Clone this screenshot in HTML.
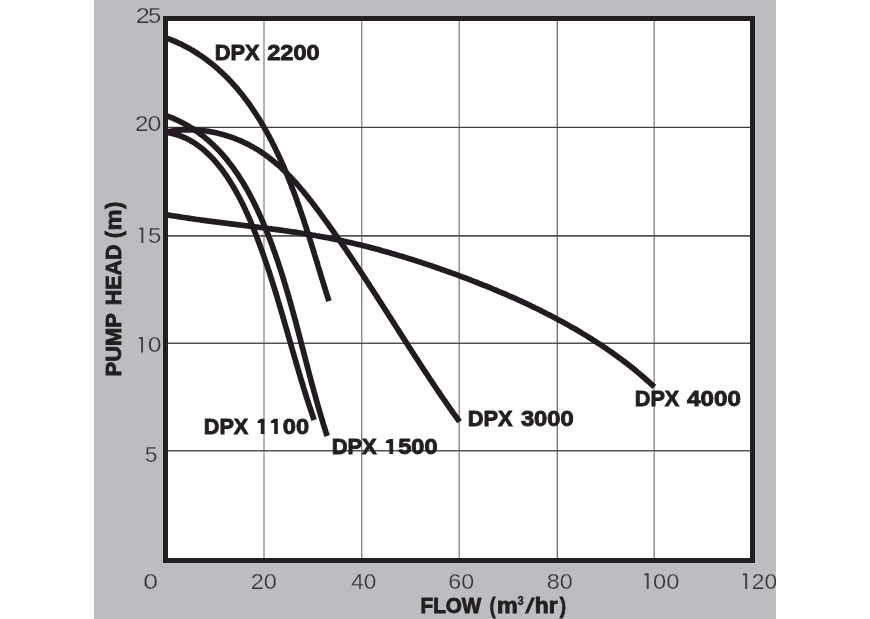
<!DOCTYPE html>
<html>
<head>
<meta charset="utf-8">
<title>Pump Curves</title>
<style>
html,body{margin:0;padding:0;background:#fff;}
body{width:870px;height:619px;overflow:hidden;font-family:"Liberation Sans",sans-serif;}
svg{display:block;will-change:transform;}
text{font-family:"Liberation Sans",sans-serif;}
.tick{fill:#37383a;font-size:22.6px;stroke:#bcbdc0;stroke-width:0.25;paint-order:fill stroke;}
.lbl{fill:#231f20;font-weight:bold;font-size:22px;stroke:#231f20;stroke-width:0.9;}
.curve{fill:none;stroke:#231f20;stroke-width:5.7;stroke-linecap:butt;stroke-linejoin:round;}
</style>
</head>
<body>
<svg width="870" height="619" viewBox="0 0 870 619">
  <defs>
    <clipPath id="grayclip"><rect x="94" y="0" width="682" height="619"/></clipPath>
    <filter id="soft" x="-2%" y="-2%" width="104%" height="104%" filterUnits="objectBoundingBox"><feGaussianBlur stdDeviation="0.4"/></filter>
    <clipPath id="plotclip"><rect x="165" y="18" width="588" height="543"/></clipPath>
  </defs>
  <rect x="0" y="0" width="870" height="619" fill="#ffffff"/>
  <rect x="94" y="0" width="682" height="619" fill="#bcbdc0"/>
  <rect x="165.5" y="18.5" width="587" height="542" fill="#ffffff"/>

  <!-- grid -->
  <g>
    <line x1="264" y1="20" x2="264" y2="559" stroke="#b4b4b4" stroke-width="2"/>
    <line x1="361.7" y1="20" x2="361.7" y2="559" stroke="#8a8a8a" stroke-width="1.4"/>
    <line x1="459.2" y1="20" x2="459.2" y2="559" stroke="#8a8a8a" stroke-width="1.4"/>
    <line x1="557.3" y1="20" x2="557.3" y2="559" stroke="#6a6a6a" stroke-width="1.3"/>
    <line x1="654.2" y1="20" x2="654.2" y2="559" stroke="#8a8a8a" stroke-width="1.4"/>
    <line x1="167" y1="127.45" x2="751" y2="127.45" stroke="#404040" stroke-width="1.3"/>
    <line x1="167" y1="235.9" x2="751" y2="235.9" stroke="#525252" stroke-width="1.6"/>
    <line x1="167" y1="343.2" x2="751" y2="343.2" stroke="#525252" stroke-width="1.4"/>
    <line x1="167" y1="450.7" x2="751" y2="450.7" stroke="#525252" stroke-width="1.4"/>
  </g>

  <!-- curves -->
  <g clip-path="url(#plotclip)"><g filter="url(#soft)">
    <path class="curve" d="M164.2,37.1 L167.9,38.6 L169.9,39.3 L171.8,40.1 L173.7,40.9 L175.6,41.7 L177.5,42.6 L179.4,43.4 L181.2,44.3 L183.1,45.2 L184.9,46.2 L186.7,47.1 L188.4,48.1 L190.2,49.1 L191.9,50.1 L193.7,51.1 L195.4,52.2 L197.1,53.2 L198.7,54.3 L200.4,55.4 L202.0,56.5 L203.7,57.7 L205.3,58.8 L206.9,60.0 L208.4,61.2 L210.0,62.4 L211.5,63.6 L213.1,64.9 L214.6,66.1 L216.1,67.4 L217.6,68.7 L219.0,70.0 L220.5,71.3 L221.9,72.6 L223.3,74.0 L224.7,75.3 L226.1,76.7 L227.5,78.1 L228.9,79.5 L230.2,80.9 L231.6,82.4 L232.9,83.8 L234.2,85.3 L235.5,86.7 L236.8,88.2 L238.1,89.7 L239.3,91.2 L240.6,92.8 L241.8,94.3 L243.0,95.8 L244.2,97.4 L245.4,99.0 L246.6,100.5 L247.8,102.1 L248.9,103.7 L250.1,105.3 L251.2,107.0 L252.3,108.6 L253.4,110.2 L254.5,111.9 L255.6,113.5 L256.7,115.2 L257.8,116.9 L258.8,118.6 L259.9,120.2 L260.9,121.9 L261.9,123.7 L262.9,125.4 L263.9,127.1 L264.9,128.8 L265.9,130.6 L266.9,132.3 L267.8,134.0 L268.8,135.8 L269.7,137.6 L270.6,139.3 L271.6,141.1 L272.5,142.9 L273.4,144.7 L274.3,146.5 L275.2,148.3 L276.0,150.1 L276.9,151.9 L277.8,153.7 L278.6,155.5 L279.5,157.3 L280.3,159.2 L281.1,161.0 L281.9,162.8 L282.8,164.7 L283.6,166.5 L284.4,168.4 L285.1,170.2 L285.9,172.1 L286.7,174.0 L287.5,175.8 L288.2,177.7 L289.0,179.6 L289.7,181.5 L290.5,183.3 L291.2,185.2 L291.9,187.1 L292.6,189.0 L293.4,190.9 L294.1,192.8 L294.8,194.7 L295.5,196.6 L296.2,198.5 L296.9,200.4 L297.5,202.3 L298.2,204.2 L298.9,206.1 L299.6,208.0 L300.2,210.0 L300.9,211.9 L301.5,213.8 L302.2,215.7 L302.8,217.6 L303.5,219.5 L304.1,221.5 L304.7,223.4 L305.4,225.3 L306.0,227.2 L306.6,229.1 L307.2,231.1 L307.8,233.0 L308.5,234.9 L309.1,236.8 L309.7,238.8 L310.3,240.7 L310.9,242.6 L311.5,244.5 L312.1,246.4 L312.7,248.4 L313.3,250.3 L313.9,252.2 L314.4,254.1 L315.0,256.0 L315.6,257.9 L316.2,259.8 L316.8,261.7 L317.4,263.6 L317.9,265.5 L318.5,267.4 L319.1,269.3 L319.7,271.2 L320.3,273.1 L320.8,275.0 L321.4,276.9 L322.0,278.8 L322.6,280.7 L323.1,282.5 L323.7,284.4 L324.3,286.3 L324.9,288.1 L325.4,290.0 L326.0,291.9 L326.6,293.7 L327.2,295.6 L327.8,297.4 L328.3,299.2 L328.9,301.1"/>
    <path class="curve" d="M164.3,115.0 L168.1,116.4 L170.0,117.1 L171.9,117.9 L173.8,118.7 L175.6,119.5 L177.5,120.3 L179.3,121.2 L181.1,122.1 L182.9,123.0 L184.6,123.9 L186.4,124.9 L188.1,125.8 L189.8,126.9 L191.5,127.9 L193.1,128.9 L194.7,130.0 L196.4,131.1 L198.0,132.2 L199.5,133.4 L201.1,134.6 L202.6,135.7 L204.2,136.9 L205.7,138.2 L207.2,139.4 L208.6,140.7 L210.1,142.0 L211.5,143.3 L212.9,144.6 L214.3,146.0 L215.7,147.3 L217.1,148.7 L218.4,150.1 L219.8,151.5 L221.1,153.0 L222.4,154.4 L223.7,155.9 L224.9,157.4 L226.2,158.9 L227.4,160.4 L228.6,161.9 L229.8,163.5 L231.0,165.0 L232.2,166.6 L233.4,168.2 L234.5,169.8 L235.6,171.4 L236.8,173.0 L237.9,174.7 L239.0,176.3 L240.0,178.0 L241.1,179.7 L242.1,181.3 L243.2,183.0 L244.2,184.8 L245.2,186.5 L246.2,188.2 L247.2,189.9 L248.2,191.7 L249.1,193.4 L250.1,195.2 L251.0,197.0 L252.0,198.8 L252.9,200.6 L253.8,202.4 L254.7,204.2 L255.6,206.0 L256.4,207.8 L257.3,209.6 L258.2,211.5 L259.0,213.3 L259.8,215.1 L260.7,217.0 L261.5,218.8 L262.3,220.7 L263.1,222.5 L263.9,224.4 L264.6,226.3 L265.4,228.1 L266.2,230.0 L266.9,231.9 L267.7,233.8 L268.4,235.6 L269.1,237.5 L269.9,239.4 L270.6,241.3 L271.3,243.2 L272.0,245.0 L272.7,246.9 L273.3,248.8 L274.0,250.7 L274.7,252.6 L275.4,254.5 L276.0,256.4 L276.7,258.3 L277.3,260.1 L278.0,262.0 L278.6,263.9 L279.2,265.8 L279.8,267.7 L280.5,269.6 L281.1,271.5 L281.7,273.4 L282.3,275.3 L282.9,277.2 L283.5,279.1 L284.0,281.0 L284.6,282.9 L285.2,284.8 L285.8,286.7 L286.3,288.6 L286.9,290.5 L287.5,292.4 L288.0,294.4 L288.6,296.3 L289.1,298.2 L289.7,300.1 L290.2,302.0 L290.7,303.9 L291.3,305.8 L291.8,307.7 L292.3,309.6 L292.9,311.5 L293.4,313.5 L293.9,315.4 L294.4,317.3 L294.9,319.2 L295.5,321.1 L296.0,323.0 L296.5,324.9 L297.0,326.8 L297.5,328.8 L298.0,330.7 L298.5,332.6 L299.0,334.5 L299.5,336.4 L300.0,338.3 L300.5,340.3 L301.0,342.2 L301.5,344.1 L302.0,346.0 L302.5,347.9 L303.0,349.8 L303.5,351.8 L304.0,353.7 L304.5,355.6 L305.0,357.5 L305.5,359.4 L306.0,361.4 L306.5,363.3 L307.0,365.2 L307.5,367.1 L308.0,369.0 L308.5,370.9 L309.0,372.9 L309.5,374.8 L310.0,376.7 L310.5,378.6 L311.0,380.5 L311.5,382.5 L312.0,384.4 L312.6,386.3 L313.1,388.2 L313.6,390.1 L314.1,392.0 L314.7,393.9 L315.2,395.9 L315.7,397.8 L316.2,399.7 L316.8,401.6 L317.3,403.5 L317.9,405.4 L318.4,407.3 L319.0,409.3 L319.5,411.2 L320.1,413.1 L320.7,415.0 L321.2,416.9 L321.8,418.8 L322.4,420.7 L322.9,422.6 L323.5,424.5 L324.1,426.4 L324.7,428.3 L325.3,430.2 L325.9,432.2 L326.5,434.1 L327.2,436.0"/>
    <path class="curve" d="M164.2,131.9 L168.1,132.6 L170.1,133.0 L172.1,133.4 L174.0,133.9 L175.9,134.4 L177.8,135.0 L179.6,135.7 L181.5,136.3 L183.2,137.1 L185.0,137.9 L186.8,138.7 L188.5,139.6 L190.2,140.5 L191.8,141.4 L193.5,142.4 L195.1,143.5 L196.7,144.5 L198.3,145.7 L199.8,146.8 L201.3,148.0 L202.9,149.2 L204.3,150.5 L205.8,151.8 L207.2,153.1 L208.6,154.4 L210.0,155.8 L211.4,157.2 L212.8,158.6 L214.1,160.1 L215.4,161.6 L216.7,163.1 L218.0,164.6 L219.2,166.2 L220.5,167.7 L221.7,169.3 L222.9,170.9 L224.0,172.5 L225.2,174.2 L226.4,175.8 L227.5,177.5 L228.6,179.2 L229.7,180.9 L230.8,182.6 L231.8,184.3 L232.9,186.0 L233.9,187.7 L234.9,189.5 L235.9,191.2 L236.9,193.0 L237.9,194.8 L238.8,196.6 L239.8,198.4 L240.7,200.2 L241.6,202.0 L242.5,203.8 L243.4,205.6 L244.3,207.5 L245.2,209.3 L246.0,211.2 L246.9,213.0 L247.7,214.9 L248.5,216.8 L249.4,218.6 L250.2,220.5 L251.0,222.4 L251.7,224.3 L252.5,226.1 L253.3,228.0 L254.0,229.9 L254.8,231.8 L255.5,233.7 L256.3,235.6 L257.0,237.5 L257.7,239.4 L258.4,241.3 L259.1,243.2 L259.8,245.1 L260.5,247.0 L261.2,248.9 L261.9,250.8 L262.6,252.7 L263.3,254.5 L263.9,256.4 L264.6,258.3 L265.2,260.2 L265.9,262.1 L266.5,264.0 L267.2,265.9 L267.8,267.8 L268.4,269.7 L269.1,271.6 L269.7,273.5 L270.3,275.4 L270.9,277.3 L271.5,279.2 L272.1,281.1 L272.7,283.0 L273.3,284.9 L273.9,286.8 L274.5,288.7 L275.1,290.6 L275.6,292.4 L276.2,294.3 L276.8,296.2 L277.4,298.1 L277.9,300.0 L278.5,301.9 L279.1,303.8 L279.6,305.7 L280.2,307.6 L280.8,309.5 L281.3,311.4 L281.9,313.3 L282.4,315.2 L283.0,317.1 L283.5,319.0 L284.1,320.9 L284.6,322.8 L285.2,324.7 L285.7,326.6 L286.3,328.5 L286.8,330.4 L287.4,332.3 L287.9,334.2 L288.4,336.1 L289.0,338.0 L289.5,339.9 L290.1,341.8 L290.6,343.7 L291.2,345.6 L291.7,347.5 L292.3,349.4 L292.8,351.3 L293.4,353.2 L293.9,355.1 L294.5,357.0 L295.0,358.9 L295.6,360.8 L296.1,362.7 L296.7,364.6 L297.2,366.6 L297.8,368.5 L298.4,370.4 L298.9,372.3 L299.5,374.2 L300.1,376.1 L300.6,378.0 L301.2,379.9 L301.8,381.8 L302.4,383.7 L303.0,385.6 L303.5,387.6 L304.1,389.5 L304.7,391.4 L305.3,393.3 L305.9,395.2 L306.5,397.1 L307.1,399.0 L307.8,400.9 L308.4,402.9 L309.0,404.8 L309.6,406.7 L310.3,408.6 L310.9,410.5 L311.6,412.4 L312.2,414.4 L312.9,416.3 L313.5,418.2 L314.2,420.1"/>
    <path class="curve" d="M164.0,132.3 L168.0,131.6 L169.9,131.3 L171.9,131.0 L173.9,130.7 L175.9,130.4 L177.9,130.2 L179.9,130.1 L181.9,129.9 L184.0,129.8 L186.0,129.8 L188.0,129.7 L190.0,129.8 L192.0,129.8 L194.0,129.9 L196.0,130.0 L198.0,130.1 L200.1,130.3 L202.1,130.5 L204.1,130.7 L206.1,131.0 L208.0,131.3 L210.0,131.6 L212.0,132.0 L214.0,132.4 L216.0,132.8 L217.9,133.3 L219.9,133.7 L221.8,134.3 L223.7,134.8 L225.7,135.4 L227.6,136.0 L229.5,136.6 L231.4,137.2 L233.3,137.9 L235.1,138.6 L237.0,139.4 L238.9,140.1 L240.7,140.9 L242.5,141.7 L244.3,142.6 L246.1,143.4 L247.9,144.3 L249.6,145.2 L251.4,146.2 L253.1,147.1 L254.8,148.1 L256.5,149.1 L258.2,150.1 L259.9,151.2 L261.5,152.3 L263.1,153.4 L264.7,154.5 L266.3,155.6 L267.9,156.8 L269.5,158.0 L271.0,159.2 L272.5,160.4 L274.0,161.6 L275.5,162.9 L277.0,164.1 L278.5,165.4 L280.0,166.7 L281.4,168.0 L282.8,169.4 L284.2,170.7 L285.6,172.1 L287.0,173.5 L288.4,174.9 L289.8,176.3 L291.1,177.7 L292.5,179.1 L293.8,180.6 L295.1,182.0 L296.5,183.5 L297.8,185.0 L299.1,186.5 L300.3,188.0 L301.6,189.5 L302.9,191.0 L304.2,192.6 L305.4,194.1 L306.7,195.6 L307.9,197.2 L309.1,198.8 L310.4,200.3 L311.6,201.9 L312.8,203.5 L314.0,205.1 L315.2,206.6 L316.4,208.2 L317.6,209.8 L318.8,211.4 L320.0,213.0 L321.2,214.7 L322.4,216.3 L323.5,217.9 L324.7,219.5 L325.9,221.1 L327.0,222.7 L328.2,224.3 L329.4,226.0 L330.5,227.6 L331.7,229.2 L332.8,230.8 L334.0,232.5 L335.1,234.1 L336.3,235.7 L337.4,237.4 L338.6,239.0 L339.7,240.7 L340.8,242.3 L342.0,243.9 L343.1,245.6 L344.2,247.2 L345.4,248.9 L346.5,250.5 L347.6,252.2 L348.7,253.8 L349.8,255.5 L351.0,257.2 L352.1,258.8 L353.2,260.5 L354.3,262.1 L355.4,263.8 L356.5,265.5 L357.6,267.1 L358.7,268.8 L359.8,270.4 L360.9,272.1 L362.0,273.8 L363.1,275.5 L364.2,277.1 L365.3,278.8 L366.4,280.5 L367.5,282.1 L368.6,283.8 L369.6,285.5 L370.7,287.2 L371.8,288.8 L372.9,290.5 L374.0,292.2 L375.1,293.9 L376.2,295.5 L377.2,297.2 L378.3,298.9 L379.4,300.6 L380.5,302.3 L381.6,303.9 L382.6,305.6 L383.7,307.3 L384.8,309.0 L385.9,310.7 L386.9,312.3 L388.0,314.0 L389.1,315.7 L390.2,317.4 L391.2,319.1 L392.3,320.7 L393.4,322.4 L394.5,324.1 L395.5,325.8 L396.6,327.5 L397.7,329.2 L398.8,330.8 L399.8,332.5 L400.9,334.2 L402.0,335.9 L403.1,337.6 L404.1,339.2 L405.2,340.9 L406.3,342.6 L407.4,344.3 L408.4,345.9 L409.5,347.6 L410.6,349.3 L411.7,351.0 L412.8,352.6 L413.8,354.3 L414.9,356.0 L416.0,357.7 L417.1,359.3 L418.2,361.0 L419.3,362.7 L420.3,364.3 L421.4,366.0 L422.5,367.7 L423.6,369.3 L424.7,371.0 L425.8,372.6 L426.9,374.3 L428.0,376.0 L429.1,377.6 L430.2,379.3 L431.3,380.9 L432.4,382.6 L433.5,384.2 L434.6,385.9 L435.7,387.5 L436.8,389.2 L437.9,390.8 L439.1,392.5 L440.2,394.1 L441.3,395.8 L442.4,397.4 L443.5,399.0 L444.7,400.7 L445.8,402.3 L446.9,403.9 L448.1,405.6 L449.2,407.2 L450.3,408.8 L451.5,410.4 L452.6,412.1 L453.8,413.7 L454.9,415.3 L456.1,416.9 L457.2,418.5 L458.4,420.1 L459.5,421.8"/>
    <path class="curve" d="M164.2,214.4 L168.1,215.0 L170.1,215.4 L172.0,215.7 L174.0,216.0 L176.0,216.3 L178.0,216.6 L179.9,216.9 L181.9,217.2 L183.9,217.5 L185.9,217.8 L187.8,218.1 L189.8,218.4 L191.8,218.7 L193.8,219.0 L195.7,219.3 L197.7,219.5 L199.7,219.8 L201.7,220.1 L203.6,220.3 L205.6,220.6 L207.6,220.9 L209.6,221.1 L211.5,221.4 L213.5,221.6 L215.5,221.9 L217.5,222.1 L219.4,222.4 L221.4,222.6 L223.4,222.9 L225.4,223.1 L227.3,223.4 L229.3,223.6 L231.3,223.9 L233.3,224.1 L235.2,224.4 L237.2,224.6 L239.2,224.8 L241.2,225.1 L243.1,225.3 L245.1,225.6 L247.1,225.8 L249.1,226.1 L251.0,226.3 L253.0,226.5 L255.0,226.8 L256.9,227.0 L258.9,227.3 L260.9,227.5 L262.9,227.8 L264.8,228.0 L266.8,228.3 L268.8,228.6 L270.8,228.8 L272.7,229.1 L274.7,229.3 L276.7,229.6 L278.6,229.9 L280.6,230.2 L282.6,230.4 L284.5,230.7 L286.5,231.0 L288.5,231.3 L290.4,231.6 L292.4,231.8 L294.4,232.1 L296.3,232.4 L298.3,232.7 L300.3,233.0 L302.2,233.4 L304.2,233.7 L306.2,234.0 L308.1,234.3 L310.1,234.6 L312.0,235.0 L314.0,235.3 L316.0,235.7 L317.9,236.0 L319.9,236.4 L321.8,236.7 L323.8,237.1 L325.7,237.4 L327.7,237.8 L329.7,238.2 L331.6,238.6 L333.6,239.0 L335.5,239.4 L337.5,239.8 L339.4,240.2 L341.4,240.6 L343.3,241.1 L345.3,241.5 L347.2,241.9 L349.2,242.4 L351.1,242.8 L353.1,243.3 L355.0,243.7 L356.9,244.2 L358.9,244.6 L360.8,245.1 L362.8,245.6 L364.7,246.1 L366.7,246.6 L368.6,247.1 L370.5,247.6 L372.5,248.1 L374.4,248.6 L376.3,249.1 L378.3,249.6 L380.2,250.1 L382.1,250.7 L384.1,251.2 L386.0,251.7 L387.9,252.3 L389.8,252.8 L391.8,253.4 L393.7,253.9 L395.6,254.5 L397.5,255.1 L399.5,255.7 L401.4,256.2 L403.3,256.8 L405.2,257.4 L407.1,258.0 L409.0,258.6 L411.0,259.2 L412.9,259.8 L414.8,260.4 L416.7,261.0 L418.6,261.6 L420.5,262.2 L422.4,262.9 L424.3,263.5 L426.2,264.1 L428.1,264.8 L430.0,265.4 L431.9,266.0 L433.8,266.7 L435.7,267.3 L437.6,268.0 L439.5,268.6 L441.4,269.3 L443.3,270.0 L445.2,270.6 L447.1,271.3 L448.9,272.0 L450.8,272.7 L452.7,273.4 L454.6,274.0 L456.5,274.7 L458.3,275.4 L460.2,276.1 L462.1,276.8 L464.0,277.5 L465.8,278.2 L467.7,278.9 L469.6,279.7 L471.4,280.4 L473.3,281.1 L475.2,281.8 L477.0,282.5 L478.9,283.3 L480.7,284.0 L482.6,284.8 L484.5,285.5 L486.3,286.2 L488.2,287.0 L490.0,287.7 L491.8,288.5 L493.7,289.3 L495.5,290.0 L497.4,290.8 L499.2,291.6 L501.0,292.3 L502.9,293.1 L504.7,293.9 L506.5,294.7 L508.3,295.5 L510.2,296.3 L512.0,297.1 L513.8,297.9 L515.6,298.7 L517.4,299.5 L519.2,300.4 L521.0,301.2 L522.9,302.0 L524.7,302.9 L526.5,303.7 L528.2,304.5 L530.0,305.4 L531.8,306.3 L533.6,307.1 L535.4,308.0 L537.2,308.8 L539.0,309.7 L540.7,310.6 L542.5,311.5 L544.3,312.4 L546.0,313.3 L547.8,314.2 L549.6,315.1 L551.3,316.0 L553.1,316.9 L554.8,317.8 L556.6,318.8 L558.3,319.7 L560.1,320.6 L561.8,321.6 L563.5,322.5 L565.3,323.5 L567.0,324.4 L568.7,325.4 L570.4,326.4 L572.2,327.4 L573.9,328.3 L575.6,329.3 L577.3,330.3 L579.0,331.3 L580.7,332.3 L582.4,333.4 L584.1,334.4 L585.8,335.4 L587.4,336.4 L589.1,337.5 L590.8,338.5 L592.5,339.6 L594.1,340.6 L595.8,341.7 L597.5,342.8 L599.1,343.8 L600.8,344.9 L602.4,346.0 L604.1,347.1 L605.7,348.2 L607.3,349.3 L609.0,350.5 L610.6,351.6 L612.2,352.7 L613.8,353.9 L615.4,355.0 L617.0,356.2 L618.6,357.4 L620.2,358.5 L621.8,359.7 L623.4,360.9 L625.0,362.1 L626.6,363.3 L628.2,364.6 L629.8,365.8 L631.3,367.0 L632.9,368.3 L634.4,369.5 L636.0,370.8 L637.5,372.1 L639.1,373.4 L640.6,374.7 L642.2,376.0 L643.7,377.3 L645.2,378.7 L646.7,380.0 L648.2,381.3 L649.7,382.7 L651.3,384.1 L652.8,385.5 L654.2,386.9"/>
  </g>
  </g>

  <!-- border -->
  <rect x="165.5" y="18.5" width="587" height="542" fill="none" stroke="#231f20" stroke-width="5"/>

  <!-- curve labels -->
  <g class="lbl">
  <text x="214.68" y="60.2" textLength="44.79" lengthAdjust="spacingAndGlyphs">DPX</text>
  <text x="267.15" y="60.2" textLength="52.61" lengthAdjust="spacingAndGlyphs">2200</text>
  <text x="203.78" y="433.7" textLength="44.5" lengthAdjust="spacingAndGlyphs">DPX</text>
  <text x="282.73" y="433.7" textLength="26.37" lengthAdjust="spacingAndGlyphs">00</text>
  <text x="331.66" y="453.8" textLength="45.09" lengthAdjust="spacingAndGlyphs">DPX</text>
  <text x="398.27" y="453.8" textLength="39.29" lengthAdjust="spacingAndGlyphs">500</text>
  <text x="467.76" y="425.8" textLength="44.84" lengthAdjust="spacingAndGlyphs">DPX</text>
  <text x="520.93" y="425.8" textLength="52.81" lengthAdjust="spacingAndGlyphs">3000</text>
  <text x="634.79" y="406.3" textLength="44.48" lengthAdjust="spacingAndGlyphs">DPX</text>
  <text x="687.14" y="406.3" textLength="53.9" lengthAdjust="spacingAndGlyphs">4000</text>
  <g stroke="none">
  <polygon points="257.60,420.90 260.80,418.80 264.40,418.80 264.40,433.90 260.80,433.90 260.80,422.90 257.60,422.90"/>
  <polygon points="270.90,420.90 274.20,418.80 277.80,418.80 277.80,433.90 274.20,433.90 274.20,422.90 270.90,422.90"/>
  <polygon points="385.90,441.00 389.40,438.90 393.10,438.90 393.10,454.00 389.40,454.00 389.40,443.00 385.90,443.00"/>
  </g>
  </g>

  <!-- ticks -->
  <g class="tick" clip-path="url(#grayclip)">
  <text x="135.75" y="23.0" textLength="14.1" lengthAdjust="spacingAndGlyphs">2</text>
  <text x="148.04" y="23.0" textLength="13.31" lengthAdjust="spacingAndGlyphs">5</text>
  <text x="135.01" y="131.3" textLength="13.43" lengthAdjust="spacingAndGlyphs">2</text>
  <text x="147.42" y="131.3" textLength="13.86" lengthAdjust="spacingAndGlyphs">0</text>
  <text x="147.95" y="243.0" textLength="13.44" lengthAdjust="spacingAndGlyphs">5</text>
  <text x="147.87" y="352.2" textLength="13.76" lengthAdjust="spacingAndGlyphs">0</text>
  <text x="144.67" y="461.8" textLength="12.74" lengthAdjust="spacingAndGlyphs">5</text>
  <text x="143.2" y="588.7" textLength="14.76" lengthAdjust="spacingAndGlyphs">0</text>
  <text x="250.73" y="588.7" textLength="26.21" lengthAdjust="spacingAndGlyphs">20</text>
  <text x="351.34" y="588.7" textLength="25.03" lengthAdjust="spacingAndGlyphs">40</text>
  <text x="448.21" y="588.7" textLength="25.87" lengthAdjust="spacingAndGlyphs">60</text>
  <text x="546.85" y="588.7" textLength="26.0" lengthAdjust="spacingAndGlyphs">80</text>
  <text x="653.06" y="588.7" textLength="26.34" lengthAdjust="spacingAndGlyphs">00</text>
  <text x="751.81" y="588.7" textLength="25.36" lengthAdjust="spacingAndGlyphs">20</text>
  <g stroke="none" fill="#3e3f41">
  <polygon points="139.30,228.10 141.40,227.60 143.30,227.60 143.30,243.10 141.40,243.10 141.40,229.60 139.30,229.60"/>
  <polygon points="138.90,337.40 141.10,336.90 143.00,336.90 143.00,352.50 141.10,352.50 141.10,338.90 138.90,338.90"/>
  <polygon points="644.20,573.80 646.80,573.30 648.70,573.30 648.70,588.90 646.80,588.90 646.80,575.30 644.20,575.30"/>
  <polygon points="742.80,573.80 745.20,573.30 747.10,573.30 747.10,588.90 745.20,588.90 745.20,575.30 742.80,575.30"/>
  </g>
  </g>

  <!-- axis titles -->
  <g class="lbl">
  <text x="420.55" y="613.3" textLength="60.76" lengthAdjust="spacingAndGlyphs">FLOW</text>
  <text x="489.87" y="613.3" textLength="5.73" lengthAdjust="spacingAndGlyphs">(</text>
  <text x="496.9" y="613.3" textLength="20.73" lengthAdjust="spacingAndGlyphs">m</text>
  <text x="534.78" y="613.3" textLength="22.78" lengthAdjust="spacingAndGlyphs">hr</text>
  <text x="559.73" y="613.3" textLength="6.23" lengthAdjust="spacingAndGlyphs">)</text>
  <text x="517.6" y="605.2" style="font-size:12px;stroke-width:0.4" textLength="6.2" lengthAdjust="spacingAndGlyphs">3</text>
  <polygon points="524.8,613.5 528.3,613.5 535.1,597.4 531.6,597.4" stroke="none"/>
  </g>
  <g class="lbl" transform="translate(121,380) rotate(-90)">
  <text x="3.59" y="0" textLength="63.36" lengthAdjust="spacingAndGlyphs">PUMP</text>
  <text x="74.75" y="0" textLength="60.59" lengthAdjust="spacingAndGlyphs">HEAD</text>
  <text x="142.08" y="0" textLength="6.73" lengthAdjust="spacingAndGlyphs">(</text>
  <text x="149.53" y="0" textLength="21.08" lengthAdjust="spacingAndGlyphs">m</text>
  <text x="171.32" y="0" textLength="6.98" lengthAdjust="spacingAndGlyphs">)</text>
  </g>
</svg>
</body>
</html>
